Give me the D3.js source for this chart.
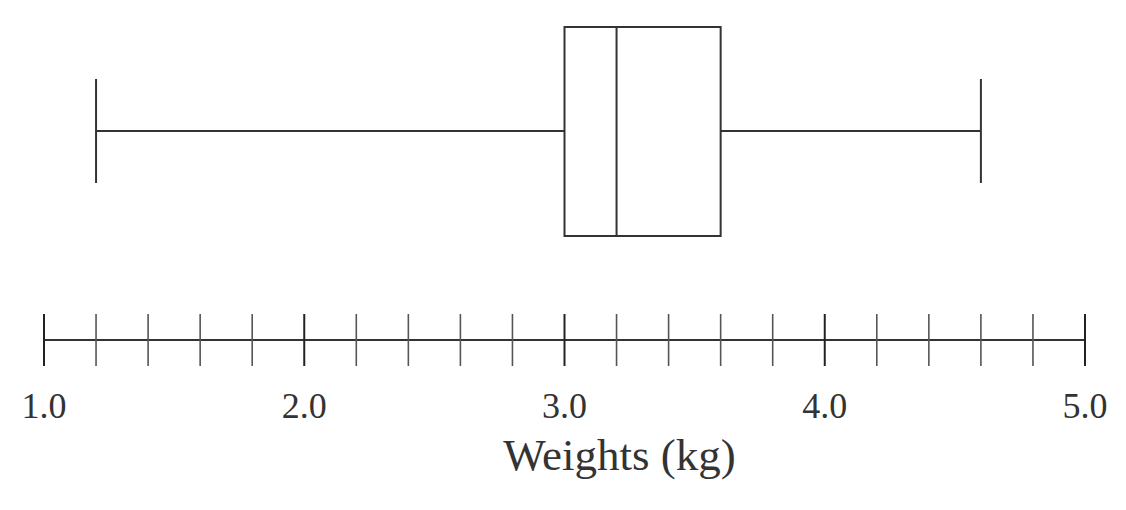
<!DOCTYPE html>
<html><head><meta charset="utf-8">
<script src="https://cdn.jsdelivr.net/npm/d3@7"></script>
<style>html,body{margin:0;padding:0;background:#fff;}svg{display:block;}</style>
</head><body>
<svg id="chart" width="1126" height="510"></svg>
<script>
// Five-number summary (kg)
const statNames = ["min", "q1", "median", "q3", "max"];
const statValues = [1.2, 3.0, 3.2, 3.6, 4.6];
// Axis ticks
const minorTicks = d3.range(0, 21).map(i => +(1 + i * 0.2).toFixed(1));
const majorTicks = [1.0, 2.0, 3.0, 4.0, 5.0];
const tickLabels = ["1.0", "2.0", "3.0", "4.0", "5.0"];
const axisTitle = "Weights (kg)";

const svg = d3.select("#chart");
const x = d3.scaleLinear().domain([1, 5]).range([44, 1085]);
const s = {}; statNames.forEach((n, i) => s[n] = statValues[i]);

const col = "#333";
const font = "'Liberation Serif', 'DejaVu Serif', serif";

// Box plot
const boxTop = 27, boxBot = 236, midY = 131, capTop = 79, capBot = 183;
const g = svg.append("g").attr("stroke", col).attr("stroke-width", 2).attr("fill", "none");
g.append("line").attr("x1", x(s.min)).attr("x2", x(s.q1)).attr("y1", midY).attr("y2", midY);
g.append("line").attr("x1", x(s.q3)).attr("x2", x(s.max)).attr("y1", midY).attr("y2", midY);
g.append("line").attr("x1", x(s.min)).attr("x2", x(s.min)).attr("y1", capTop).attr("y2", capBot);
g.append("line").attr("x1", x(s.max)).attr("x2", x(s.max)).attr("y1", capTop).attr("y2", capBot);
g.append("rect").attr("x", x(s.q1)).attr("y", boxTop).attr("width", x(s.q3) - x(s.q1)).attr("height", boxBot - boxTop);
g.append("line").attr("x1", x(s.median)).attr("x2", x(s.median)).attr("y1", boxTop).attr("y2", boxBot);

// Axis
const axY = 340, tl = 26;
const ax = svg.append("g");
ax.append("line").attr("x1", x(1)).attr("x2", x(5)).attr("y1", axY).attr("y2", axY)
  .attr("stroke", col).attr("stroke-width", 2);
ax.selectAll("line.tick").data(minorTicks).join("line").attr("class", "tick")
  .attr("x1", d => x(d)).attr("x2", d => x(d)).attr("y1", axY - tl).attr("y2", axY + tl)
  .attr("stroke", d => majorTicks.includes(d) ? "#222" : "#555")
  .attr("stroke-width", d => majorTicks.includes(d) ? 2 : 1.6);
ax.selectAll("text.lbl").data(majorTicks).join("text").attr("class", "lbl")
  .attr("x", d => x(d)).attr("y", 418).attr("text-anchor", "middle")
  .attr("font-family", font).attr("font-size", 36).attr("fill", "#333")
  .text((d, i) => tickLabels[i]);
svg.append("text").attr("x", x(3) + 55).attr("y", 470).attr("text-anchor", "middle")
  .attr("font-family", font).attr("font-size", 45).attr("fill", "#333").text(axisTitle);
</script>
</body></html>
